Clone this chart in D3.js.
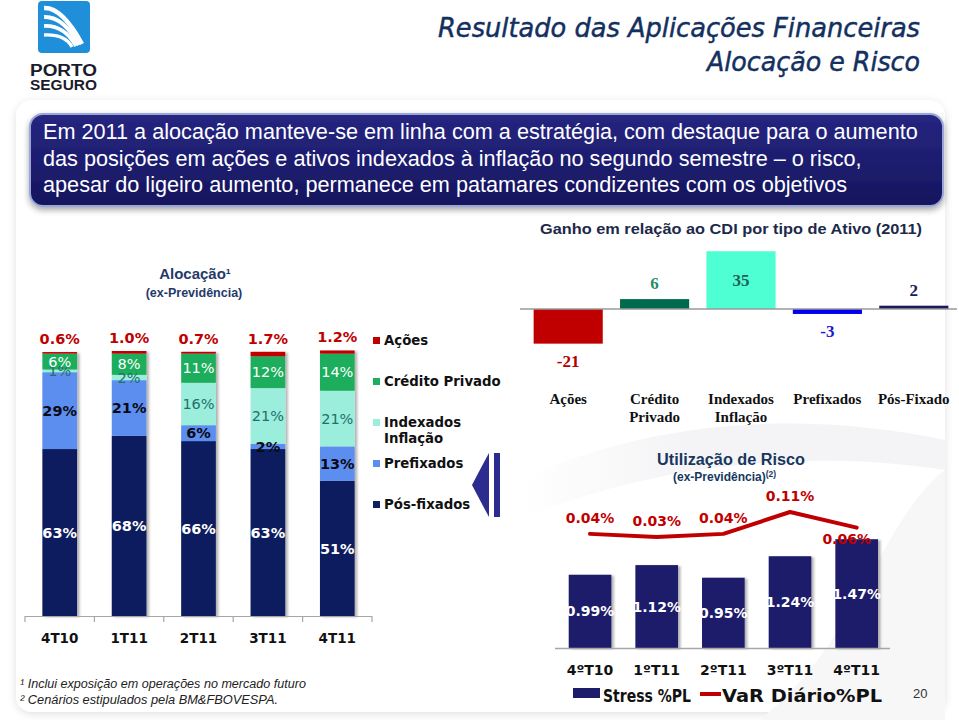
<!DOCTYPE html>
<html><head><meta charset="utf-8">
<script src="https://cdn.jsdelivr.net/npm/d3@7"></script>
<style>html,body{margin:0;padding:0;background:#fff;} svg{display:block;}</style>
</head><body>
<svg id="c" width="959" height="720"></svg>
<script>
// ---------- DATA ----------
const allocQuarters = ["4T10", "1T11", "2T11", "3T11", "4T11"];
const allocSeries = ["Pós-fixados", "Prefixados", "Indexados Inflação", "Crédito Privado", "Ações"];
const posFixados = [63, 68, 66, 63, 51];
const prefixados = [29, 21, 6, 2, 13];
const indexados = [1, 2, 16, 21, 21];
const creditoPrivado = [6, 8, 11, 12, 14];
const acoes = [0.6, 1.0, 0.7, 1.7, 1.2];

const gainCategories = ["Ações", "Crédito\nPrivado", "Indexados\nInflação", "Prefixados", "Pós-Fixado"];
const gainValues = [-21, 6, 35, -3, 2];

const riskQuarters = ["4ºT10", "1ºT11", "2ºT11", "3ºT11", "4ºT11"];
const stressValues = [0.99, 1.12, 0.95, 1.24, 1.47];
const varValues = [0.04, 0.03, 0.04, 0.11, 0.06];

const introLines = [
  "Em 2011 a alocação manteve-se em linha com a estratégia, com destaque para o aumento",
  "das posições em ações e  ativos indexados à inflação no segundo semestre – o risco,",
  "apesar do ligeiro aumento, permanece em patamares condizentes com os objetivos"
];

// ---------- SETUP ----------
const svg = d3.select("#c");
const defs = svg.append("defs");
const f1 = defs.append("filter").attr("id", "sh").attr("x", "-20%").attr("y", "-10%").attr("width", "150%").attr("height", "130%");
f1.append("feDropShadow").attr("dx", 2.5).attr("dy", 1).attr("stdDeviation", 1.2).attr("flood-color", "#000").attr("flood-opacity", 0.3);
const f2 = defs.append("filter").attr("id", "boxsh").attr("x", "-5%").attr("y", "-20%").attr("width", "110%").attr("height", "150%");
f2.append("feDropShadow").attr("dx", 0).attr("dy", 3).attr("stdDeviation", 3).attr("flood-color", "#000").attr("flood-opacity", 0.35);
const f3 = defs.append("filter").attr("id", "panelsh").attr("x", "-5%").attr("y", "-5%").attr("width", "110%").attr("height", "110%");
f3.append("feDropShadow").attr("dx", 0).attr("dy", 2).attr("stdDeviation", 4).attr("flood-color", "#000").attr("flood-opacity", 0.12);
const g1 = defs.append("linearGradient").attr("id", "boxg").attr("x1", 0).attr("y1", 0).attr("x2", 0).attr("y2", 1);
g1.append("stop").attr("offset", "0%").attr("stop-color", "#262682");
g1.append("stop").attr("offset", "100%").attr("stop-color", "#15155e");
const g2 = defs.append("linearGradient").attr("id", "swg").attr("x1", 0).attr("y1", 0).attr("x2", 1).attr("y2", 0);
g2.append("stop").attr("offset", "0%").attr("stop-color", "#f4f4f6").attr("stop-opacity", 0);
g2.append("stop").attr("offset", "40%").attr("stop-color", "#f4f4f6").attr("stop-opacity", 1);
g2.append("stop").attr("offset", "100%").attr("stop-color", "#f4f4f6").attr("stop-opacity", 1);

const SANS = "'DejaVu Sans', Verdana, sans-serif";
const ARIAL = "'Liberation Sans', Arial, sans-serif";
const SERIF = "'Liberation Serif', 'Times New Roman', serif";

// slide panel
svg.append("rect").attr("x", 16).attr("y", 100).attr("width", 929).attr("height", 612).attr("rx", 16)
  .attr("fill", "#fff").attr("filter", "url(#panelsh)");
// faint background swooshes
svg.append("path").attr("d", "M520,480 C650,420 800,410 945,440 L945,470 C820,450 660,460 520,520 Z").attr("fill", "url(#swg)");
svg.append("path").attr("d", "M760,720 C860,640 880,520 945,470 L945,720 Z").attr("fill", "#f7f7f8");

// ---------- LOGO ----------
const logo = svg.append("g");
logo.append("rect").attr("x", 38).attr("y", 1).attr("width", 52).attr("height", 52).attr("rx", 4).attr("fill", "#1e8fd8");
[[8, 82, 44], [17, 79, 45], [26, 76, 46], [35, 72, 47]].forEach(([y0, x1, y1], i) => {
  logo.append("path").attr("d", `M44,${y0} Q${62 + i * 1},${y0 - 1} ${x1},${y1}`)
    .attr("fill", "none").attr("stroke", "#fff").attr("stroke-width", 4.5 - i * 0.4);
});
logo.append("text").attr("x", 30).attr("y", 75.5).attr("font-family", ARIAL).attr("font-weight", "bold")
  .attr("font-size", 16).attr("fill", "#1b1b2b").attr("textLength", 67).attr("lengthAdjust", "spacingAndGlyphs").text("PORTO");
logo.append("text").attr("x", 30).attr("y", 89.5).attr("font-family", ARIAL).attr("font-weight", "bold")
  .attr("font-size", 15).attr("fill", "#1b1b2b").attr("textLength", 67).attr("lengthAdjust", "spacingAndGlyphs").text("SEGURO");

// ---------- TITLE ----------
[["Resultado das Aplicações Financeiras", 37, 482], ["Alocação e Risco", 71, 213]].forEach(([t, y, w]) => {
  svg.append("text").attr("x", 920).attr("y", y).attr("text-anchor", "end").attr("font-family", SANS)
    .attr("font-style", "italic").attr("font-size", 26).attr("fill", "#13305f")
    .attr("stroke", "#13305f").attr("stroke-width", 0.45)
    .attr("textLength", w).attr("lengthAdjust", "spacingAndGlyphs").text(t);
});

// ---------- INTRO BOX ----------
svg.append("rect").attr("x", 30).attr("y", 114).attr("width", 913).attr("height", 92).attr("rx", 13)
  .attr("fill", "url(#boxg)").attr("stroke", "#9aa6d6").attr("stroke-width", 2).attr("filter", "url(#boxsh)");
const introG = svg.append("g");
const introT = introG.selectAll("text").data(introLines).join("text")
  .attr("x", 43).attr("y", (d, i) => 139 + i * 26.5)
  .attr("font-family", ARIAL).attr("font-size", 20).attr("fill", "#fff").text(d => d);
{
  const w = introT.nodes()[0].getComputedTextLength();
  introT.attr("font-size", 20 * 875 / w);
}

// ---------- LEFT: ALLOCATION STACKED BARS ----------
svg.append("text").attr("x", 195).attr("y", 279).attr("text-anchor", "middle").attr("font-family", ARIAL)
  .attr("font-weight", "bold").attr("font-size", 15).attr("fill", "#1f3a6b").text("Alocação¹");
svg.append("text").attr("x", 194).attr("y", 297).attr("text-anchor", "middle").attr("font-family", ARIAL)
  .attr("font-weight", "bold").attr("font-size", 12.5).attr("fill", "#1f3a6b").text("(ex-Previdência)");

const allocColors = {
  "Pós-fixados": "#0c1f5e", "Prefixados": "#5b8ef0", "Indexados Inflação": "#9beedb",
  "Crédito Privado": "#1fae5b", "Ações": "#c00000"
};
const allocLabelStyle = {
  "Pós-fixados": { fill: "#fff", weight: "bold" },
  "Prefixados": { fill: "#0a0a14", weight: "bold" },
  "Indexados Inflação": { fill: "#22706c", weight: "normal" },
  "Crédito Privado": { fill: "#fff", weight: "normal" }
};
const seriesArrays = {
  "Pós-fixados": posFixados, "Prefixados": prefixados, "Indexados Inflação": indexados,
  "Crédito Privado": creditoPrivado, "Ações": acoes
};
const stackRows = allocQuarters.map((q, i) => {
  const r = { q };
  allocSeries.forEach(s => r[s] = seriesArrays[s][i]);
  return r;
});
const stacked = d3.stack().keys(allocSeries)(stackRows);

const xL = d3.scaleBand().domain(allocQuarters).range([25, 372]).paddingInner(0.5).paddingOuter(0.25);
const yL = d3.scaleLinear().domain([0, 100]).range([616, 351]);

const barsL = svg.append("g").attr("filter", "url(#sh)");
stacked.forEach(layer => {
  barsL.selectAll(null).data(layer).join("rect")
    .attr("x", d => xL(d.data.q)).attr("width", xL.bandwidth())
    .attr("y", d => yL(d[1])).attr("height", d => yL(d[0]) - yL(d[1]))
    .attr("fill", allocColors[layer.key]);
});
// axis
const axL = svg.append("g");
axL.append("line").attr("x1", xL.range()[0]).attr("x2", xL.range()[1]).attr("y1", yL(0) + 0.5).attr("y2", yL(0) + 0.5)
  .attr("stroke", "#a6a6a6").attr("stroke-width", 1.2);
axL.selectAll("line.tk").data(d3.range(allocQuarters.length + 1)).join("line").attr("class", "tk")
  .attr("x1", i => xL.range()[0] + i * xL.step()).attr("x2", i => xL.range()[0] + i * xL.step())
  .attr("y1", yL(0)).attr("y2", yL(0) + 6).attr("stroke", "#a6a6a6").attr("stroke-width", 1.2);
axL.selectAll("text").data(allocQuarters).join("text")
  .attr("x", d => xL(d) + xL.bandwidth() / 2).attr("y", 643).attr("text-anchor", "middle")
  .attr("font-family", SANS).attr("font-weight", "bold").attr("font-size", 13.5).attr("fill", "#111").text(d => d);

// segment labels
const labL = svg.append("g");
stacked.forEach(layer => {
  if (layer.key === "Ações") {
    labL.selectAll(null).data(layer).join("text")
      .attr("x", d => xL(d.data.q) + xL.bandwidth() / 2).attr("y", d => yL(d[1]) - 8)
      .attr("text-anchor", "middle").attr("font-family", SANS).attr("font-weight", "bold")
      .attr("font-size", 14.5).attr("fill", "#c00000").text(d => (d[1] - d[0]).toFixed(1) + "%");
  } else {
    const st = allocLabelStyle[layer.key];
    labL.selectAll(null).data(layer).join("text")
      .attr("x", d => xL(d.data.q) + xL.bandwidth() / 2).attr("y", d => (yL(d[0]) + yL(d[1])) / 2)
      .attr("dy", "0.36em").attr("text-anchor", "middle").attr("font-family", SANS).attr("font-weight", st.weight)
      .attr("font-size", 14.5).attr("fill", st.fill).text(d => Math.round(d[1] - d[0]) + "%");
  }
});
// legend
const legL = svg.append("g");
const legItems = allocSeries.slice().reverse();
legItems.forEach((s, i) => {
  const by = 345 + i * 41;
  legL.append("rect").attr("x", 373).attr("y", by - 8).attr("width", 7).attr("height", 7).attr("fill", allocColors[s]);
  const lines = s === "Indexados Inflação" ? ["Indexados", "Inflação"] : [s];
  lines.forEach((ln, j) => {
    legL.append("text").attr("x", 384).attr("y", by + j * 16).attr("font-family", SANS).attr("font-weight", "bold")
      .attr("font-size", 13.3).attr("fill", "#111").text(ln);
  });
});
// decorative arrow
svg.append("path").attr("d", "M489,453 Q484,462 472,485 Q484,508 489,517 Z").attr("fill", "#2c2c8e");
svg.append("rect").attr("x", 494).attr("y", 453).attr("width", 6).attr("height", 64).attr("fill", "#2c2c8e");

// ---------- RIGHT TOP: GAIN vs CDI ----------
svg.append("text").attr("x", 922).attr("y", 234).attr("text-anchor", "end").attr("font-family", ARIAL)
  .attr("font-weight", "bold").attr("font-size", 14).attr("fill", "#1c2a4a")
  .attr("textLength", 382).attr("lengthAdjust", "spacingAndGlyphs").text("Ganho em relação ao CDI por tipo de Ativo (2011)");

const gainColors = ["#c00000", "#006a4e", "#4dffd2", "#0000ee", "#1a1a5e"];
const gainLabelColors = ["#b00000", "#2a8a6a", "#235e5a", "#1a1acc", "#1a1a5e"];
const xG = d3.scaleBand().domain(gainCategories).range([525, 957]).paddingInner(0.2).paddingOuter(0.1);
const yG = d3.scaleLinear().domain([-21, 35]).range([309 + 21 * 1.65, 309 - 35 * 1.65]);
const gG = svg.append("g");
gG.selectAll("rect").data(gainValues).join("rect")
  .attr("x", (d, i) => xG(gainCategories[i])).attr("width", xG.bandwidth())
  .attr("y", d => yG(Math.max(0, d))).attr("height", d => Math.abs(yG(d) - yG(0)))
  .attr("fill", (d, i) => gainColors[i]);
gG.append("line").attr("x1", 520).attr("x2", 957).attr("y1", yG(0)).attr("y2", yG(0))
  .attr("stroke", "#9a9a9a").attr("stroke-width", 1.5);
gG.selectAll("text.v").data(gainValues).join("text").attr("class", "v")
  .attr("x", (d, i) => xG(gainCategories[i]) + xG.bandwidth() / 2)
  .attr("y", d => d > 0 ? Math.max(yG(d) - 10, yG(0) - 23) : yG(d) + 23)
  .attr("text-anchor", "middle").attr("font-family", SERIF).attr("font-weight", "bold")
  .attr("font-size", 17).attr("fill", (d, i) => gainLabelColors[i]).text(d => d);
gainCategories.forEach(c => {
  const t = gG.append("text").attr("text-anchor", "middle").attr("font-family", SERIF).attr("font-weight", "bold")
    .attr("font-size", 15).attr("fill", "#111");
  c.split("\n").forEach((ln, j) => {
    t.append("tspan").attr("x", xG(c) + xG.bandwidth() / 2).attr("y", 404 + j * 17.5).text(ln);
  });
});

// ---------- RIGHT BOTTOM: RISK ----------
svg.append("text").attr("x", 731).attr("y", 465).attr("text-anchor", "middle").attr("font-family", ARIAL)
  .attr("font-weight", "bold").attr("font-size", 16).attr("fill", "#17375e")
  .attr("textLength", 148).attr("lengthAdjust", "spacingAndGlyphs").text("Utilização de Risco");
const sub = svg.append("text").attr("x", 673).attr("y", 481).attr("font-family", ARIAL)
  .attr("font-weight", "bold").attr("font-size", 12).attr("fill", "#17375e");
sub.append("tspan").text("(ex-Previdência)");
sub.append("tspan").attr("font-size", 8.5).attr("dy", -4).text("(2)");

const xR = d3.scaleBand().domain(riskQuarters).range([556.7, 890]).paddingInner(0.36).paddingOuter(0.18);
const yS = d3.scaleLinear().domain([0, 1.5]).range([648, 537]);
const yV = d3.scaleLinear().domain([0.03, 0.11]).range([537, 512]);
const gR = svg.append("g");
gR.append("g").attr("filter", "url(#sh)").selectAll("rect").data(stressValues).join("rect")
  .attr("x", (d, i) => xR(riskQuarters[i])).attr("width", xR.bandwidth())
  .attr("y", d => yS(d)).attr("height", d => yS(0) - yS(d)).attr("fill", "#1c1c6b");
gR.append("line").attr("x1", 555).attr("x2", 890).attr("y1", yS(0) + 0.5).attr("y2", yS(0) + 0.5)
  .attr("stroke", "#a6a6a6").attr("stroke-width", 1.3);
gR.selectAll("text.s").data(stressValues).join("text").attr("class", "s")
  .attr("x", (d, i) => xR(riskQuarters[i]) + xR.bandwidth() / 2).attr("y", d => (yS(d) + yS(0)) / 2)
  .attr("dy", "0.36em").attr("text-anchor", "middle").attr("font-family", SANS).attr("font-weight", "bold")
  .attr("font-size", 14).attr("fill", "#fff").text(d => d.toFixed(2) + "%");
const lineV = d3.line().x((d, i) => xR(riskQuarters[i]) + xR.bandwidth() / 2).y(d => yV(d));
gR.append("path").attr("d", lineV(varValues)).attr("fill", "none").attr("stroke", "#c00000")
  .attr("stroke-width", 4).attr("stroke-linecap", "round").attr("stroke-linejoin", "round");
const lastI = varValues.length - 1;
gR.selectAll("text.v").data(varValues).join("text").attr("class", "v")
  .attr("x", (d, i) => xR(riskQuarters[i]) + xR.bandwidth() / 2 - (i === lastI ? 10 : 0))
  .attr("y", (d, i) => i === lastI ? yV(d) + 16 : yV(d) - 11)
  .attr("text-anchor", "middle").attr("font-family", SANS).attr("font-weight", "bold")
  .attr("font-size", 14).attr("fill", "#c00000").text(d => d.toFixed(2) + "%");
gR.selectAll("text.c").data(riskQuarters).join("text").attr("class", "c")
  .attr("x", d => xR(d) + xR.bandwidth() / 2).attr("y", 675).attr("text-anchor", "middle")
  .attr("font-family", SANS).attr("font-weight", "bold").attr("font-size", 14).attr("fill", "#111").text(d => d);
// legend
gR.append("rect").attr("x", 573).attr("y", 688).attr("width", 27).attr("height", 10).attr("fill", "#1c1c6b");
gR.append("text").attr("x", 603).attr("y", 702).attr("font-family", SANS).attr("font-weight", "bold")
  .attr("font-size", 17).attr("fill", "#111").attr("textLength", 88).attr("lengthAdjust", "spacingAndGlyphs").text("Stress %PL");
gR.append("line").attr("x1", 700).attr("x2", 721).attr("y1", 694).attr("y2", 694).attr("stroke", "#c00000").attr("stroke-width", 4);
gR.append("text").attr("x", 722).attr("y", 702).attr("font-family", SANS).attr("font-weight", "bold")
  .attr("font-size", 17).attr("fill", "#111").attr("textLength", 160).attr("lengthAdjust", "spacingAndGlyphs").text("VaR Diário%PL");

// page number
svg.append("text").attr("x", 913).attr("y", 698).attr("font-family", ARIAL).attr("font-size", 13)
  .attr("fill", "#333").text("20");

// footnotes
svg.append("text").attr("x", 20).attr("y", 688).attr("font-family", ARIAL).attr("font-style", "italic")
  .attr("font-size", 12).attr("fill", "#222").attr("textLength", 286).attr("lengthAdjust", "spacingAndGlyphs")
  .text("¹ Inclui exposição em operações no mercado futuro");
svg.append("text").attr("x", 20).attr("y", 704).attr("font-family", ARIAL).attr("font-style", "italic")
  .attr("font-size", 12).attr("fill", "#222").attr("textLength", 258).attr("lengthAdjust", "spacingAndGlyphs")
  .text("² Cenários estipulados  pela BM&FBOVESPA.");
</script>
</body></html>
